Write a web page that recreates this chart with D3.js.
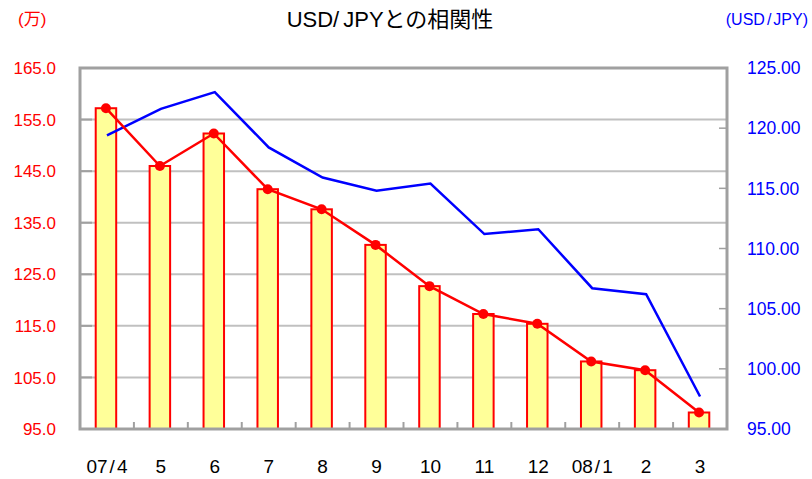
<html>
<head>
<meta charset="utf-8">
<script src="https://d3js.org/d3.v7.min.js"></script>
<style>
    body { margin: 0; background: #fff; }
    text { font-family: "Liberation Sans", Arial, "Noto Sans CJK JP", sans-serif; }
</style>
</head>
<body>
<div id="chart"></div>
<script>
    // month labels
    var months = ['07/4', '5', '6', '7', '8', '9', '10', '11', '12', '08/1', '2', '3'];
    // left axis series (万), bars + red line share the same values
    var priceValues = [157.2, 146.0, 152.3, 141.5, 137.6, 130.7, 122.7, 117.3, 115.4, 108.1, 106.4, 98.2];
    // right axis series, USD/JPY
    var usdJpy = [119.4, 121.6, 123.0, 118.4, 115.9, 114.8, 115.4, 111.2, 111.6, 106.7, 106.2, 97.7];
    var leftTicks = [95, 105, 115, 125, 135, 145, 155, 165];
    var rightTicks = [95, 100, 105, 110, 115, 120, 125];

    var W = 812, H = 479;
    var margin = {top: 68, right: 85, bottom: 50, left: 80};
    var width = W - margin.left - margin.right;
    var height = H - margin.top - margin.bottom;

    var svg = d3.select('#chart').append('svg')
        .attr('width', W)
        .attr('height', H);

    var g = svg.append('g')
        .attr('transform', 'translate(' + margin.left + ',' + margin.top + ')');

    var x = d3.scaleBand().domain(months).range([0, width]);
    var yL = d3.scaleLinear().domain([95, 165]).range([height, 0]);
    var yR = d3.scaleLinear().domain([95, 125]).range([height, 0]);

    // gridlines on left axis values
    g.selectAll('.grid')
        .data(leftTicks.slice(1, -1))
        .enter().append('line')
        .attr('x1', 0).attr('x2', width)
        .attr('y1', function(d) { return yL(d); })
        .attr('y2', function(d) { return yL(d); })
        .attr('stroke', '#c0c0c0')
        .attr('stroke-width', 2);

    // left ticks (inside)
    g.selectAll('.ltick')
        .data(leftTicks)
        .enter().append('line')
        .attr('x1', 0).attr('x2', 12)
        .attr('y1', function(d) { return yL(d); })
        .attr('y2', function(d) { return yL(d); })
        .attr('stroke', '#a0a0a0')
        .attr('stroke-width', 2);

    // right ticks (inside)
    g.selectAll('.rtick')
        .data(rightTicks)
        .enter().append('line')
        .attr('x1', width - 8).attr('x2', width)
        .attr('y1', function(d) { return yR(d); })
        .attr('y2', function(d) { return yR(d); })
        .attr('stroke', '#a0a0a0')
        .attr('stroke-width', 1.5);

    // bottom ticks between categories
    var bounds = months.slice(1).map(function(m) { return x(m); });
    g.selectAll('.btick')
        .data(bounds)
        .enter().append('line')
        .attr('x1', function(d) { return d; })
        .attr('x2', function(d) { return d; })
        .attr('y1', height).attr('y2', height - 7)
        .attr('stroke', '#a0a0a0')
        .attr('stroke-width', 2);

    // bars
    var barW = x.bandwidth() * 0.38;
    g.selectAll('.bar')
        .data(priceValues)
        .enter().append('rect')
        .attr('x', function(d, i) { return x(months[i]) + x.bandwidth() / 2 - barW / 2 - 1; })
        .attr('y', function(d) { return yL(d); })
        .attr('width', barW)
        .attr('height', function(d) { return height - yL(d); })
        .attr('fill', '#ffff99')
        .attr('stroke', '#ff0000')
        .attr('stroke-width', 2);

    // frame
    g.append('rect')
        .attr('x', 0).attr('y', 0)
        .attr('width', width).attr('height', height)
        .attr('fill', 'none')
        .attr('stroke', '#a0a0a0')
        .attr('stroke-width', 3);

    // blue line
    var blueLine = d3.line()
        .x(function(d, i) { return x(months[i]) + x.bandwidth() / 2; })
        .y(function(d) { return yR(d); });
    g.append('path')
        .datum(usdJpy)
        .attr('d', blueLine)
        .attr('fill', 'none')
        .attr('stroke', '#0000ff')
        .attr('stroke-width', 2.5);

    // red line + dots
    var redLine = d3.line()
        .x(function(d, i) { return x(months[i]) + x.bandwidth() / 2 - 1; })
        .y(function(d) { return yL(d); });
    g.append('path')
        .datum(priceValues)
        .attr('d', redLine)
        .attr('fill', 'none')
        .attr('stroke', '#ff0000')
        .attr('stroke-width', 2.5);
    g.selectAll('.dot')
        .data(priceValues)
        .enter().append('circle')
        .attr('cx', function(d, i) { return x(months[i]) + x.bandwidth() / 2 - 1; })
        .attr('cy', function(d) { return yL(d); })
        .attr('r', 5)
        .attr('fill', '#ff0000');

    // left labels
    g.selectAll('.llab')
        .data(leftTicks)
        .enter().append('text')
        .attr('x', -24)
        .attr('y', function(d) { return yL(d); })
        .attr('dy', '0.36em')
        .attr('text-anchor', 'end')
        .attr('fill', '#ff0000')
        .style('font-size', '17px')
        .text(function(d) { return d.toFixed(1); });

    // right labels
    g.selectAll('.rlab')
        .data(rightTicks)
        .enter().append('text')
        .attr('x', width + 20)
        .attr('y', function(d) { return yR(d); })
        .attr('dy', '0.36em')
        .attr('fill', '#0000ff')
        .style('font-size', '17.5px')
        .text(function(d) { return d.toFixed(2); });

    // month labels, slash gets a little air on both sides
    var xlab = g.selectAll('.xlab')
        .data(months)
        .enter().append('text')
        .attr('x', function(d) { return x(d) + x.bandwidth() / 2; })
        .attr('y', height + 44)
        .attr('text-anchor', 'middle')
        .attr('fill', '#000')
        .style('font-size', '19px');
    xlab.each(function(d) {
        var t = d3.select(this);
        var parts = d.split('/');
        if (parts.length === 1) { t.text(d); return; }
        t.append('tspan').text(parts[0]);
        t.append('tspan').attr('dx', 2).text('/');
        t.append('tspan').attr('dx', 2).text(parts[1]);
    });

    // titles
    var title = svg.append('text')
        .attr('x', 390).attr('y', 27)
        .attr('text-anchor', 'middle')
        .style('font-size', '22px');
    title.append('tspan').text('USD/');
    title.append('tspan').attr('dx', 4).text('JPYとの相関性');

    svg.append('text')
        .attr('x', 18).attr('y', 25)
        .attr('fill', '#ff0000')
        .style('font-size', '17px')
        .text('(万)');

    var rt = svg.append('text')
        .attr('x', 808).attr('y', 25)
        .attr('text-anchor', 'end')
        .attr('fill', '#0000ff')
        .style('font-size', '16px');
    rt.append('tspan').text('(USD');
    rt.append('tspan').attr('dx', 2).text('/');
    rt.append('tspan').attr('dx', 2).text('JPY)');
</script>
</body>
</html>
